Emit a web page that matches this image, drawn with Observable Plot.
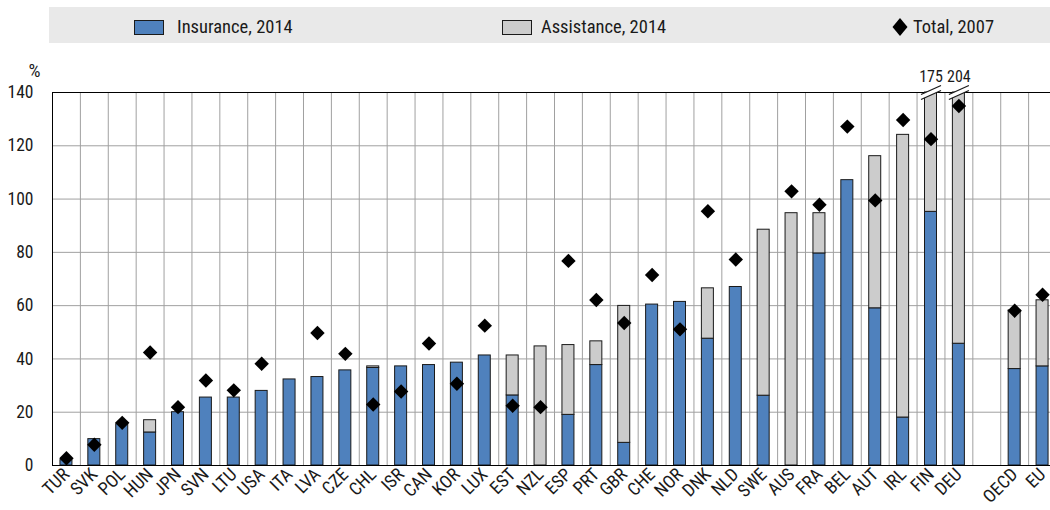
<!DOCTYPE html>
<html><head><meta charset="utf-8">
<script src="https://cdn.jsdelivr.net/npm/d3@7"></script>
<script src="https://cdn.jsdelivr.net/npm/@observablehq/plot@0.6"></script>
<style>
body{margin:0;background:#fff;font-family:"Liberation Sans Narrow","Arial Narrow","Roboto Condensed",sans-serif;}
#legend{position:relative;height:50px;width:1050px;overflow:hidden;}
#band{position:absolute;left:49px;top:7px;width:1001px;height:36px;background:#e9e9e9;}
.sw{position:absolute;top:20px;width:28px;height:13px;border:1px solid #1a1a1a;}
.lt{position:absolute;top:16px;font-size:18.5px;line-height:22px;color:#1a1a1a;white-space:nowrap;}
#chart svg{display:block;}
</style></head><body>
<div id="legend"><div id="band"></div>
<div class="sw" id="sw1" style="left:134px"></div><div class="lt" style="left:177px">Insurance, 2014</div>
<div class="sw" id="sw2" style="left:502px"></div><div class="lt" style="left:541px">Assistance, 2014</div>
<svg style="position:absolute;left:892px;top:18px" width="16" height="18"><path d="M8,0L15.5,9L8,18L0.5,9Z" fill="#000"/></svg>
<div class="lt" style="left:913px">Total, 2007</div>
</div>
<div id="chart"></div>
<script>
const countries = ["TUR","SVK","POL","HUN","JPN","SVN","LTU","USA","ITA","LVA","CZE","CHL","ISR","CAN","KOR","LUX","EST","NZL","ESP","PRT","GBR","CHE","NOR","DNK","NLD","SWE","AUS","FRA","BEL","AUT","IRL","FIN","DEU","OECD","EU"];
const insurance2014 = [2, 9.9, 15.5, 12.4, 20.0, 25.5, 25.5, 28.0, 32.3, 33.2, 35.7, 36.6, 37.2, 37.7, 38.6, 41.3, 26.3, 0, 19.0, 37.7, 8.5, 60.4, 61.4, 47.6, 67.0, 26.2, 0, 79.6, 107.1, 59.0, 18.0, 95.2, 45.7, 36.2, 37.2];
const assistance2014 = [0, 0, 0, 4.6, 0, 0, 0, 0, 0, 0, 0, 0.6, 0, 0, 0, 0, 15.0, 44.7, 26.2, 8.9, 51.4, 0, 0, 18.9, 0, 62.3, 94.7, 15.1, 0, 57.1, 106.1, 79.8, 158.3, 22.0, 24.8];
const total2007 = [2.7, 7.8, 16.0, 42.4, 21.9, 31.9, 28.2, 38.2, null, 49.7, 41.9, 22.9, 27.8, 45.8, 30.7, 52.5, 22.4, 21.9, 76.8, 62.1, 53.5, 71.5, 51.1, 95.4, 77.3, null, 102.9, 97.9, 127.2, 99.5, 129.7, 122.5, 134.9, 58.1, 64.1];
const yTicks = [0, 20, 40, 60, 80, 100, 120, 140];
const seriesNames = ["Insurance, 2014", "Assistance, 2014"];
const seriesColors = ["#4f81bd", "#cccccc"];

document.getElementById("sw1").style.background = seriesColors[0];
document.getElementById("sw2").style.background = seriesColors[1];

const GAP = "__gap__";
const domain = [...countries.slice(0, 33), GAP, ...countries.slice(33)];

const W = 1050, H = 460, mL = 52, mR = -6, mT = 42, mB = 45;
const step = (W - mL - mR) / domain.length;
const barW = 12;
const pad = 1 - barW / step;

const rows = countries.map((c, i) => ({
  country: c,
  insurance: insurance2014[i],
  assistance: assistance2014[i],
  total2014: insurance2014[i] + assistance2014[i],
  total2007: total2007[i]
}));
const stacked = rows.flatMap(r => [
  {country: r.country, series: seriesNames[0], value: r.insurance},
  {country: r.country, series: seriesNames[1], value: r.assistance}
]).filter(d => d.value > 0);
const broken = rows.filter(r => r.total2014 > 140);

const breakFill = {draw(ctx) { ctx.moveTo(-10, 2); ctx.lineTo(10, -7); ctx.lineTo(10, -2); ctx.lineTo(-10, 7); ctx.closePath(); }};
const breakLines = {draw(ctx) { ctx.moveTo(-10, 2); ctx.lineTo(10, -7); ctx.moveTo(-10, 7); ctx.lineTo(10, -2); }};

const chart = Plot.plot({
  width: W, height: H,
  marginLeft: mL, marginRight: mR, marginTop: mT, marginBottom: mB,
  style: {fontFamily: '"Liberation Sans Narrow","Arial Narrow","Roboto Condensed",sans-serif', fontSize: "18px", color: "#1a1a1a", background: "#fff"},
  x: {domain, paddingInner: pad, paddingOuter: pad / 2, align: 0.5},
  y: {domain: [0, 140], clamp: true},
  color: {domain: seriesNames, range: seriesColors},
  marks: [
    Plot.ruleY(yTicks, {stroke: "#a0a0a0", strokeWidth: 1}),
    Plot.ruleX(domain, {x: d => d, dx: step / 2, stroke: "#a0a0a0", strokeWidth: 1}),
    Plot.barY(stacked, Plot.stackY({x: "country", y: "value", fill: "series", stroke: "#1a1a1a", strokeWidth: 1})),
    Plot.dot(rows.filter(r => r.total2007 != null), {x: "country", y: "total2007", symbol: "diamond2", r: 6.5, fill: "#000", stroke: "none"}),
    Plot.frame({stroke: "#000", strokeWidth: 1}),
    Plot.dot(broken, {x: "country", y: "total2014", symbol: breakFill, r: 10, fill: "#fff", stroke: "none"}),
    Plot.dot(broken, {x: "country", y: "total2014", symbol: breakLines, r: 10, fill: "none", stroke: "#1a1a1a", strokeWidth: 1.3}),
    Plot.text(broken, {x: "country", y: "total2014", text: d => String(d.total2014), dy: -16, fill: "#1a1a1a", fontSize: 16}),
    Plot.axisY(yTicks, {tickSize: 0, tickPadding: 19, label: null, fontSize: 17.5}),
    Plot.axisX({tickRotate: -45, tickSize: 0, tickPadding: 6, label: null, fontSize: 18, tickFormat: d => d === GAP ? "" : d}),
    Plot.text(["%"], {frameAnchor: "top-left", dx: -24, dy: -29, fill: "#1a1a1a", fontSize: 19})
  ]
});
document.getElementById("chart").appendChild(chart);
</script>
</body></html>
